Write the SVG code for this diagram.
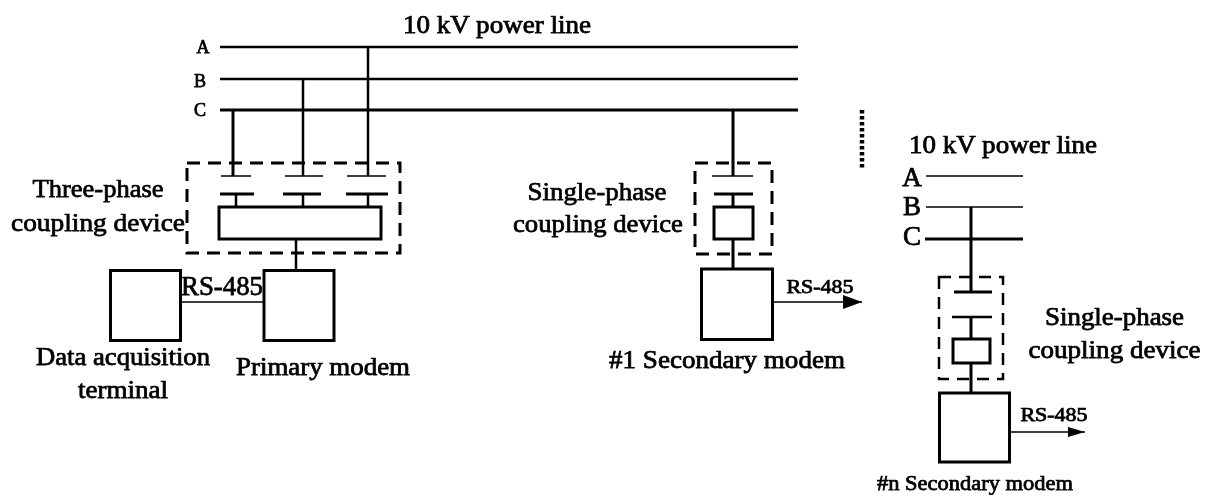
<svg xmlns="http://www.w3.org/2000/svg" width="1219" height="497" viewBox="0 0 1219 497">
<style>
text{font-family:"Liberation Serif","Times New Roman",serif;fill:#000;stroke:#000;stroke-width:.75;text-anchor:middle}
.l{fill:none;stroke:#000;stroke-linecap:butt}
.t{stroke-width:3}.m{stroke-width:2.500}.n{stroke-width:1.600}
.d{fill:none;stroke:#000;stroke-width:3;stroke-dasharray:13 8}
.b{fill:#fff;stroke:#000;stroke-width:3}
</style>
<defs>
<filter id="soft" x="0" y="0" width="100%" height="100%"><feGaussianBlur stdDeviation="0.7"/></filter>
<marker id="ah" markerUnits="userSpaceOnUse" markerWidth="20" markerHeight="14" refX="19" refY="7" orient="auto"><path d="M0 0L19 7L0 14z" fill="#000"/></marker>
<marker id="ah2" markerUnits="userSpaceOnUse" markerWidth="18" markerHeight="10" refX="17" refY="5" orient="auto"><path d="M0 0L17 5L0 10z" fill="#000"/></marker>
</defs>
<rect width="1219" height="497" fill="#fff"/>
<g filter="url(#soft)">
<g id="three-phase-coupling">
<rect class="d" x="187" y="163" width="213" height="90"/>
<path class="l n" d="M221 176H251M285 176H323M347 176H386"/>
<path class="l t" d="M220 194H254M283 194H321M346 194H388"/>
<rect class="b" x="219" y="207" width="162" height="32"/>
<text x="98" y="197" font-size="26" textLength="131" lengthAdjust="spacingAndGlyphs">Three-phase</text>
<text x="98" y="231" font-size="26" textLength="174" lengthAdjust="spacingAndGlyphs">coupling device</text>
</g>
<g id="data-acquisition-terminal">
<rect class="b" x="110.500" y="270.500" width="70" height="70"/>
<text x="123" y="365" font-size="25" textLength="174" lengthAdjust="spacingAndGlyphs">Data acquisition</text>
<text x="123" y="398" font-size="25" textLength="90" lengthAdjust="spacingAndGlyphs">terminal</text>
</g>
<g id="primary-modem">
<rect class="b" x="264" y="270.500" width="70" height="70"/>
<text x="222" y="295" font-size="27" textLength="82" lengthAdjust="spacingAndGlyphs">RS-485</text>
<text x="323" y="375" font-size="25" textLength="174" lengthAdjust="spacingAndGlyphs">Primary modem</text>
</g>
<g id="single-phase-coupling-1">
<rect class="d" x="695" y="163" width="77" height="91"/>
<path class="l n" d="M712 176H753"/>
<path class="l t" d="M714 194H753"/>
<rect class="b" x="714" y="207" width="39" height="32"/>
<text x="597" y="200" font-size="26" textLength="139" lengthAdjust="spacingAndGlyphs">Single-phase</text>
<text x="598" y="232" font-size="26" textLength="170" lengthAdjust="spacingAndGlyphs">coupling device</text>
</g>
<g id="secondary-modem-1">
<rect class="b" x="701.500" y="269" width="71" height="70.500"/>
<text x="820" y="293" font-size="19" textLength="67" lengthAdjust="spacingAndGlyphs">RS-485</text>
<text x="727" y="368" font-size="25" textLength="236" lengthAdjust="spacingAndGlyphs">#1 Secondary modem</text>
</g>
<g id="power-line-1">
<text x="497" y="33" font-size="25" textLength="188" lengthAdjust="spacingAndGlyphs">10 kV power line</text>
<text x="203" y="53" font-size="18">A</text>
<text x="200" y="87" font-size="18">B</text>
<text x="200" y="116" font-size="18">C</text>
</g>
<g id="ellipsis">
<path fill="none" stroke="#000" stroke-width="4.500" stroke-dasharray="3.500 2.500" d="M862 110V170"/>
</g>
<g id="power-line-2">
<text x="1003" y="153" font-size="25" textLength="188" lengthAdjust="spacingAndGlyphs">10 kV power line</text>
<text x="912" y="186" font-size="27">A</text>
<text x="912" y="215" font-size="27">B</text>
<text x="912" y="245" font-size="27">C</text>
</g>
<g id="single-phase-coupling-2">
<rect fill="none" stroke="#000" stroke-width="2.500" stroke-dasharray="12 8" x="939" y="277" width="64" height="102"/>
<path class="l t" d="M954 292H992"/>
<path class="l m" d="M952 317H992"/>
<rect class="b" x="953" y="339" width="37" height="24"/>
<text x="1114.500" y="325" font-size="25" textLength="139" lengthAdjust="spacingAndGlyphs">Single-phase</text>
<text x="1114.500" y="358" font-size="25" textLength="172" lengthAdjust="spacingAndGlyphs">coupling device</text>
</g>
<g id="secondary-modem-n">
<rect class="b" x="939.500" y="393" width="70" height="69"/>
<text x="1054" y="421" font-size="18" textLength="67" lengthAdjust="spacingAndGlyphs">RS-485</text>
<text x="975" y="490" font-size="21" textLength="196" lengthAdjust="spacingAndGlyphs">#n Secondary modem</text>
</g>
<g id="connectors">
<path class="l m" d="M220 47H798M220 79H798"/>
<path class="l t" d="M220 110H798"/>
<path class="l t" d="M233 110V176"/>
<path class="l m" d="M303 79V176M368 47V176"/>
<path class="l m" d="M236 194V207M303 194V207M368 194V207"/>
<path class="l m" d="M296 239V270"/>
<path class="l n" d="M181 302H264"/>
<path class="l t" d="M733 110V176M733 194V207M733 239V268"/>
<path class="l n" d="M773 302H862" marker-end="url(#ah)"/>
<path class="l n" d="M926 176H1023M926 207H1023"/>
<path class="l t" d="M925 239H1023"/>
<path class="l t" d="M971 207V292M971 317V339M971 363V392"/>
<path class="l n" d="M1010 432H1085" marker-end="url(#ah2)"/>
</g>
</g>
</svg>
